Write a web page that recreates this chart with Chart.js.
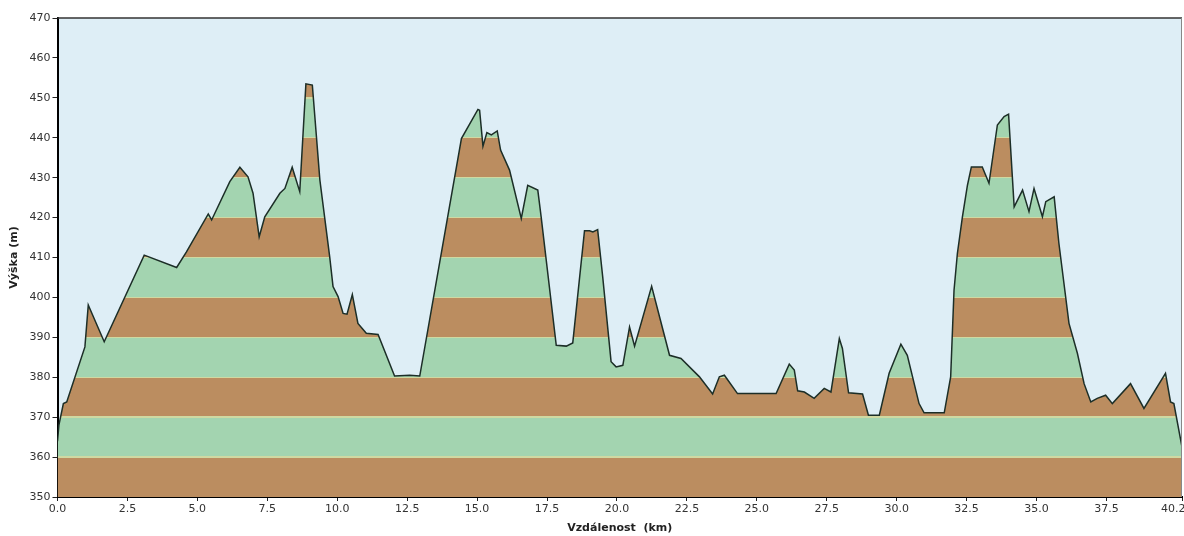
<!DOCTYPE html>
<html>
<head>
<meta charset="utf-8">
<script src="https://cdn.jsdelivr.net/npm/chart.js@4"></script>
<style>
  body { margin: 0; background: #fff; }
  canvas { display: block; }
</style>
</head>
<body>
<canvas id="profile" width="1184" height="536"></canvas>
<script>
// elevation profile, values
var distKm = [0.00, 0.05, 0.21, 0.33, 0.98, 1.10, 1.67, 3.10, 4.26, 4.61, 5.39, 5.51, 6.16, 6.52, 6.81, 6.99,
  7.21, 7.41, 7.95, 8.13, 8.39, 8.66, 8.88, 9.11, 9.38, 9.73, 9.85, 10.03, 10.21, 10.35, 10.54, 10.74,
  11.04, 11.46, 12.05, 12.59, 12.95, 14.44, 15.03, 15.09, 15.21, 15.35, 15.51, 15.72, 15.84, 16.16,
  16.58, 16.81, 17.17, 17.29, 17.83, 18.19, 18.42, 18.84, 19.02, 19.14, 19.31, 19.49, 19.79, 19.97,
  20.21, 20.45, 20.63, 21.24, 21.88, 22.29, 22.95, 23.42, 23.66, 23.84, 24.31, 25.69, 26.16, 26.34,
  26.46, 26.70, 27.05, 27.41, 27.65, 27.95, 28.06, 28.28, 28.78, 28.99, 29.38, 29.73, 30.15, 30.38,
  30.80, 30.98, 31.70, 31.93, 32.05, 32.17, 32.35, 32.53, 32.67, 33.06, 33.30, 33.60, 33.84, 34.00,
  34.20, 34.50, 34.73, 34.91, 35.21, 35.33, 35.63, 35.80, 36.16, 36.46, 36.70, 36.94, 37.17, 37.47,
  37.71, 38.36, 38.84, 39.61, 39.79, 39.91, 40.20];
var elevM = [364, 368, 373.4, 373.8, 387.6, 398.1, 388.9, 410.6, 407.5, 411.4, 420.9, 419.4, 429.0, 432.6, 430.2, 426.1,
  415.2, 420.2, 426.1, 427.3, 432.6, 426.5, 453.5, 453.2, 429.4, 410.2, 402.7, 400.2, 396.0, 395.8, 400.7, 393.5,
  391.0, 390.7, 380.3, 380.5, 380.3, 439.8, 447.1, 446.9, 437.9, 441.3, 440.7, 441.7, 436.9, 431.9,
  419.8, 428.1, 426.9, 420.2, 388.0, 387.8, 388.6, 416.7, 416.7, 416.4, 417.0, 405.2, 383.9, 382.6,
  383.0, 392.6, 387.8, 402.8, 385.5, 384.7, 380.1, 375.8, 380.1, 380.5, 375.9, 375.9, 383.3, 381.8,
  376.6, 376.3, 374.7, 377.2, 376.3, 389.7, 387.2, 376.1, 375.8, 370.5, 370.5, 381.0, 388.3, 385.5,
  373.4, 371.1, 371.1, 380.1, 401.8, 411.0, 420.2, 428.1, 432.7, 432.7, 428.6, 443.2, 445.3, 445.9,
  422.7, 426.9, 421.5, 427.3, 420.2, 424.0, 425.2, 413.5, 393.5, 386.0, 378.4, 373.8, 374.7, 375.5,
  373.4, 378.4, 372.2, 381.0, 373.8, 373.4, 362.5];

var xTicks = [0, 2.5, 5, 7.5, 10, 12.5, 15, 17.5, 20, 22.5, 25, 27.5, 30, 32.5, 35, 37.5, 40.2];
var yTicks = [350, 360, 370, 380, 390, 400, 410, 420, 430, 440, 450, 460, 470];

var xTitle = "Vzdálenost  (km)";
var yTitle = "Výška (m)";

var brown = "#bb8d60";
var green = "#a3d4b0";
var pale = "#cfd9a2";
var sky = "#deeef6";

var points = distKm.map(function (d, i) {
  return { x: d, y: elevM[i] };
});

/* striped fill: brown / green every 10 m, built from the y scale */
function bandFill(context) {
  var chart = context.chart;
  if (!chart.chartArea) return brown;
  var ys = chart.scales.y;
  var bottom = ys.getPixelForValue(yTicks[0]);
  var top = ys.getPixelForValue(yTicks[yTicks.length - 1]);
  var h = bottom - top;
  var d = 0.7 / h;
  var g = chart.ctx.createLinearGradient(0, bottom, 0, top);
  for (var i = 0; i < yTicks.length - 1; i++) {
    var p0 = (bottom - ys.getPixelForValue(yTicks[i])) / h;
    var p1 = (bottom - ys.getPixelForValue(yTicks[i + 1])) / h;
    var c = i % 2 == 0 ? brown : green;
    g.addColorStop(i == 0 ? 0 : Math.min(p0 + d, 1), c);
    if (i < yTicks.length - 2) {
      g.addColorStop(p1 - d, c);
      g.addColorStop(p1 - d, pale);
      g.addColorStop(p1 + d, pale);
    } else {
      g.addColorStop(1, c);
    }
  }
  return g;
}

var plotFrame = {
  id: "plotFrame",
  beforeDraw: function (chart) {
    var a = chart.chartArea;
    var ctx = chart.ctx;
    ctx.save();
    ctx.fillStyle = sky;
    ctx.fillRect(a.left, a.top, a.right - a.left, a.bottom - a.top);
    ctx.restore();
  },
  afterDraw: function (chart) {
    var a = chart.chartArea;
    var ctx = chart.ctx;
    ctx.save();
    ctx.strokeStyle = "#333";
    ctx.lineWidth = 1.5;
    ctx.beginPath();
    ctx.moveTo(a.left, a.top);
    ctx.lineTo(a.right, a.top);
    ctx.stroke();
    ctx.strokeStyle = "#888";
    ctx.lineWidth = 1;
    ctx.beginPath();
    ctx.moveTo(a.right - 0.5, a.top);
    ctx.lineTo(a.right - 0.5, a.bottom);
    ctx.stroke();
    ctx.restore();
  }
};

var tickFont = { family: "DejaVu Sans", size: 11 };
var titleFont = { family: "DejaVu Sans", size: 11, weight: "bold" };

new Chart(document.getElementById("profile"), {
  type: "line",
  data: {
    datasets: [{
      data: points,
      borderColor: "#1c2e27",
      borderWidth: 1.5,
      pointRadius: 0,
      tension: 0,
      fill: "start",
      backgroundColor: bandFill
    }]
  },
  options: {
    responsive: false,
    devicePixelRatio: 1,
    animation: false,
    layout: { padding: { top: 18, right: 2, left: 0, bottom: 0 } },
    plugins: {
      legend: { display: false },
      tooltip: { enabled: false }
    },
    scales: {
      x: {
        type: "linear",
        min: 0,
        max: 40.2,
        afterBuildTicks: function (scale) {
          scale.ticks = xTicks.map(function (v) { return { value: v }; });
        },
        afterFit: function (scale) {
          scale.height = 39;
          scale.paddingLeft = 0;
          scale.paddingRight = 0;
        },
        ticks: {
          color: "#333",
          font: tickFont,
          padding: 2,
          maxRotation: 0,
          autoSkip: false,
          callback: function (v, i) {
            var s = Number(v).toFixed(1);
            // last label sits at the right edge, pushed left like in the source
            if (i == xTicks.length - 1) s = s + "     ";
            return s;
          }
        },
        grid: { drawOnChartArea: false, drawTicks: true, tickLength: 4, color: "#222" },
        border: { display: true, color: "#000", width: 2 },
        title: { display: true, text: xTitle, color: "#222", font: titleFont, padding: { top: 0, bottom: 1 } }
      },
      y: {
        min: 350,
        max: 470,
        afterBuildTicks: function (scale) {
          scale.ticks = yTicks.map(function (v) { return { value: v }; });
        },
        afterFit: function (scale) {
          scale.width = 57.5;
          scale.paddingTop = 0;
          scale.paddingBottom = 0;
        },
        ticks: { color: "#333", font: tickFont, padding: 2 },
        grid: { drawOnChartArea: false, drawTicks: true, tickLength: 5, color: "#222" },
        border: { display: true, color: "#000", width: 2 },
        title: { display: true, text: yTitle, color: "#222", font: titleFont, padding: { top: 8, bottom: 0 } }
      }
    }
  },
  plugins: [plotFrame]
});
</script>
</body>
</html>
